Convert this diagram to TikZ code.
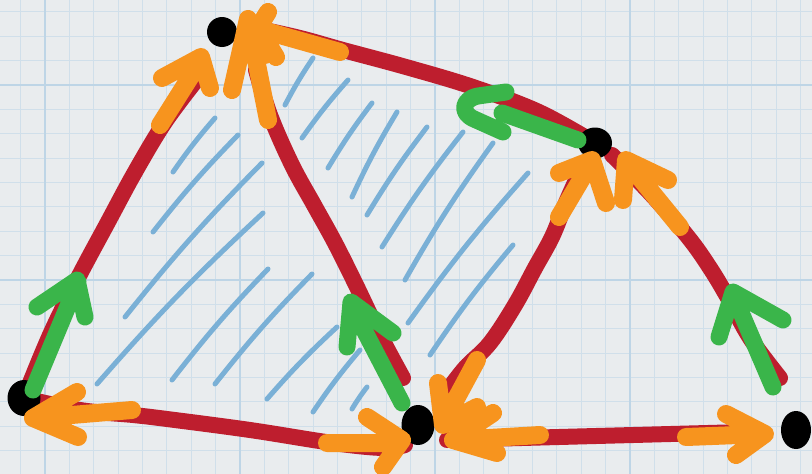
\documentclass[tikz,border=0pt]{standalone}
\usetikzlibrary{shapes.geometric}
\definecolor{bgc}{RGB}{233,236,238}
\definecolor{gminor}{RGB}{208,223,234}
\definecolor{gmajor}{RGB}{190,213,230}
\definecolor{myred}{RGB}{190,30,46}
\definecolor{myorange}{RGB}{247,148,30}
\definecolor{mygreen}{RGB}{58,181,74}
\definecolor{myblue}{RGB}{122,176,214}
\pgfdeclarelayer{bglayer}
\pgfdeclarelayer{edgelayer}
\pgfsetlayers{bglayer,edgelayer,main}
\begin{document}
\begin{tikzpicture}[x=1pt,y=-1pt,
  minorline/.style={draw=gminor, line width=1.1pt},
  majorline/.style={draw=gmajor, line width=2.4pt},
  hatch/.style={draw=myblue, line width=5pt, line cap=round},
  rededge/.style={draw=myred, line width=16pt, line cap=round, line join=round},
  orarrow/.style={draw=myorange, line width=18pt, line cap=round, line join=round},
  grarrow/.style={draw=mygreen, line width=17pt, line cap=round, line join=round},
  dot/.style={ellipse, fill=black, inner sep=0pt}]

\useasboundingbox (0,0) rectangle (812,474);

% nodes
\node[dot, minimum width=33pt, minimum height=36pt] (A) at (24,398) {};
\node[dot, minimum width=30pt, minimum height=30pt] (B) at (222,32) {};
\node[dot, minimum width=33pt, minimum height=40pt] (C) at (418,425) {};
\node[dot, minimum width=34pt, minimum height=31pt] (D) at (595,143) {};
\node[dot, minimum width=30pt, minimum height=38pt] (E) at (796,430) {};

\coordinate (ABtop) at (198,78);
\coordinate (BCtop) at (256,70);
\coordinate (BCbot) at (403,378);
\coordinate (BDleft) at (255,28);
\coordinate (CDbot) at (445,394);
\coordinate (CDtop) at (577,178);
\coordinate (DEtop) at (612,155);
\coordinate (DEbot) at (780,378);
\coordinate (CEleft) at (447,440);
\coordinate (CEright) at (745,432);
\coordinate (ACright) at (405,445);

\begin{pgfonlayer}{bglayer}
\fill[bgc] (0,0) rectangle (812,474);
\foreach \i in {0,...,32} \draw[minorline] ({20.6+24.375*\i},0) -- ++(0,474);
\foreach \i in {0,...,18} \draw[minorline] (0,{11.9+24.375*\i}) -- ++(812,0);
\foreach \i in {0,...,3} \draw[majorline] ({45+195*\i},0) -- ++(0,474);
\foreach \i in {0,...,2} \draw[majorline] (0,{85+195*\i}) -- ++(812,0);
\foreach \xa/\ya/\xb/\yb in {173/172/215/118, 153/232/238/135, 125/317/262/163,
  97/384/263/213, 172/380/268/269, 215/384/312/274, 267/399/337/327,
  313/412/360/350, 352/409/367/387,
  285/105/313/58, 302/138/348/80, 328/168/372/103, 352/197/397/112,
  367/215/427/127, 382/247/463/132, 405/280/493/143, 408/323/528/173,
  430/355/513/245}
  \draw[hatch] (\xa,\ya) to[bend left=3] (\xb,\yb);
\end{pgfonlayer}

\begin{pgfonlayer}{edgelayer}
\draw[rededge] plot[smooth, tension=0.6] coordinates {(A.center) (50,335) (78,278) (108,222) (135,172) (165,122) (ABtop)};
\draw[rededge] plot[smooth, tension=0.6] coordinates {(BCtop) (270,115) (292,165) (314,205) (335,243) (356,285) (380,335) (BCbot)};
\draw[rededge] plot[smooth, tension=0.6] coordinates {(BDleft) (300,38) (343,50) (406,67) (473,87) (539,112) (D.center)};
\draw[rededge] plot[smooth, tension=0.6] coordinates {(A.center) (80,410) (133,415) (167,419) (250,430) (333,443) (383,448) (ACright)};
\draw[rededge] plot[smooth, tension=0.6] coordinates {(CDbot) (465,368) (490,343) (515,305) (535,268) (552,237) (565,205) (CDtop)};
\draw[rededge] plot[smooth, tension=0.6] coordinates {(DEtop) (650,193) (688,237) (710,268) (728,298) (750,338) (DEbot)};
\draw[rededge] (CEleft) -- (CEright);
\end{pgfonlayer}

% orange arrows
\draw[orarrow] (160,125) -- (201,60) (162,78) -- (201,57) -- (210,88);
\draw[orarrow] (268,120) -- (249,24) (232,90) -- (248,19) -- (265,55);
\draw[orarrow] (340,52) -- (262,30) (268,12) -- (258,28) -- (276,57);
\draw[orarrow] (559,217) -- (591,163) (559,173) -- (592,160) -- (606,203);
\draw[orarrow] (680,227) -- (627,162) (623,200) -- (626,160) -- (668,180);
\draw[orarrow] (477,360) -- (443,423) (438,383) -- (443,425) -- (477,407);
\draw[orarrow] (540,435) -- (455,440) (493,413) -- (453,440) -- (497,453);
\draw[orarrow] (327,443) -- (400,443) (367,417) -- (402,440) -- (383,467);
\draw[orarrow] (132,410) -- (35,418) (77,392) -- (33,418) -- (78,437);
\draw[orarrow] (686,437) -- (764,434) (726,414) -- (765,434) -- (736,455);

% green arrows
\draw[grarrow] (33,390) -- (78,282) (37,307) -- (77,280) -- (85,317);
\draw[grarrow] (402,403) -- (351,305) (347,347) -- (351,302) -- (393,333);
\draw[grarrow] (578,140) -- (502,113) (506,92) -- (478,96) .. controls (462,99) and (460,113) .. (474,119) -- (503,132);
\draw[grarrow] (773,387) -- (733,294) (719,337) -- (733,292) -- (783,320);
\end{tikzpicture}
\end{document}
